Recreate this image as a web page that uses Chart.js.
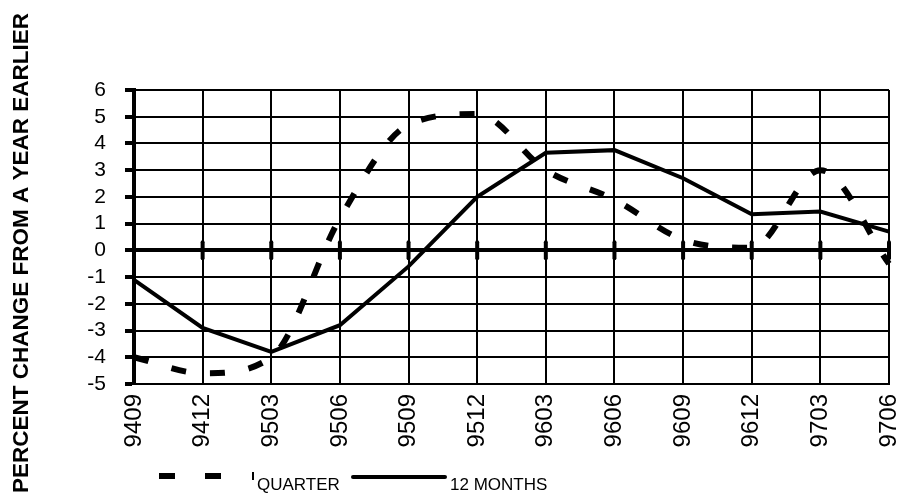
<!DOCTYPE html>
<html>
<head>
<meta charset="utf-8">
<script src="https://cdn.jsdelivr.net/npm/chart.js@4"></script>
<style>
  html, body { margin: 0; padding: 0; background: #fff; }
  #wrap { width: 904px; height: 499px; }
</style>
</head>
<body>
<div id="wrap"><canvas id="chart" width="904" height="499"></canvas></div>
<script>
const labels = ["9409", "9412", "9503", "9506", "9509", "9512", "9603", "9606", "9609", "9612", "9703", "9706"];
const quarterValues = [-4.0, -4.6, -4.0, 1.2, 4.7, 5.1, 3.0, 1.9, 0.4, 0.1, 3.0, -0.5];
const yearValues = [-1.1, -2.9, -3.8, -2.8, -0.6, 2.0, 3.65, 3.75, 2.7, 1.35, 1.45, 0.7];
const yTitle = "PERCENT CHANGE FROM A YEAR EARLIER";

const FONT = "'Liberation Sans', Arial, sans-serif";
const yTickFont = { family: FONT, size: 21 };

// axis title, zero-line markers and the legend
const extras = {
  id: "extras",
  beforeDatasetsDraw(chart) {
    const ctx = chart.ctx;
    const x = chart.scales.x, y = chart.scales.y;
    const y0 = y.getPixelForValue(0);
    ctx.save();
    ctx.strokeStyle = "#000";
    ctx.lineWidth = 4;
    ctx.lineCap = "round";
    labels.forEach((l, i) => {
      const px = x.getPixelForValue(i);
      ctx.beginPath();
      ctx.moveTo(px, y0 - 8);
      ctx.lineTo(px, y0 + 8);
      ctx.stroke();
    });
    ctx.restore();
  },
  afterDraw(chart) {
    const ctx = chart.ctx;
    ctx.save();
    // y title
    ctx.translate(22, 253);
    ctx.rotate(-Math.PI / 2);
    ctx.fillStyle = "#000";
    ctx.font = "bold 22.5px " + FONT;
    ctx.textAlign = "center";
    ctx.textBaseline = "middle";
    ctx.fillText(yTitle, 0, 0);
    ctx.restore();

    // legend
    const ds = chart.data.datasets;
    ctx.save();
    ctx.fillStyle = "#000";
    ctx.fillRect(159, 473, 16, 6);
    ctx.fillRect(205, 473, 16, 6);
    ctx.fillRect(252, 472, 2, 8);
    ctx.font = "17px " + FONT;
    ctx.textBaseline = "alphabetic";
    ctx.fillText(ds[0].label, 257, 490);
    ctx.strokeStyle = "#000";
    ctx.lineWidth = 4;
    ctx.lineCap = "round";
    ctx.beginPath();
    ctx.moveTo(353, 477);
    ctx.lineTo(445, 477);
    ctx.stroke();
    ctx.fillText(ds[1].label, 450, 490);
    ctx.restore();
  }
};

new Chart(document.getElementById("chart"), {
  type: "line",
  data: {
    labels,
    datasets: [
      {
        label: "QUARTER",
        data: quarterValues,
        borderColor: "#000",
        borderWidth: 6,
        borderDash: [15, 24],
        cubicInterpolationMode: "monotone",
        pointRadius: 0,
        fill: false
      },
      {
        label: "12 MONTHS",
        data: yearValues,
        borderColor: "#000",
        borderWidth: 4,
        tension: 0,
        pointRadius: 0,
        fill: false
      }
    ]
  },
  options: {
    responsive: false,
    animation: false,
    layout: { padding: { top: 90, right: 15, left: 0, bottom: 0 } },
    plugins: {
      legend: { display: false },
      tooltip: { enabled: false }
    },
    scales: {
      x: {
        offset: false,
        afterFit: (s) => { s.height = 115; s.paddingLeft = 0; s.paddingRight = 0; },
        grid: { color: "#000", lineWidth: 2, drawTicks: false },
        border: { color: "#000", width: 2 },
        ticks: {
          color: "#000",
          font: { family: FONT, size: 24 },
          minRotation: 90,
          maxRotation: 90,
          padding: 10,
          autoSkip: false
        }
      },
      y: {
        type: "linear",
        min: -5,
        max: 6,
        afterFit: (s) => { s.width = 134; s.paddingTop = 0; s.paddingBottom = 0; },
        grid: {
          color: "#000",
          lineWidth: (c) => (c.tick && c.tick.value === 0 ? 4 : 2),
          tickLength: 9,
          tickWidth: 4,
          tickColor: "#000"
        },
        border: { color: "#000", width: 4 },
        ticks: {
          stepSize: 1,
          autoSkip: false,
          color: "#000",
          font: () => yTickFont,
          padding: 19
        }
      }
    }
  },
  plugins: [extras]
});
</script>
</body>
</html>
